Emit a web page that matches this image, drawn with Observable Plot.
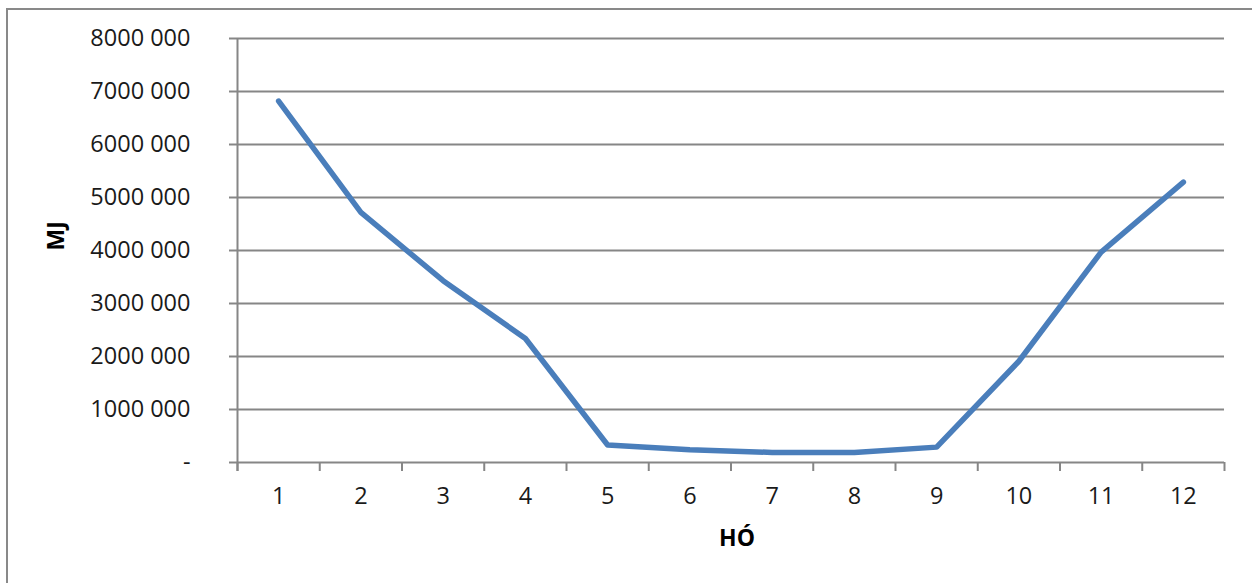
<!DOCTYPE html>
<html>
<head>
<meta charset="utf-8">
<script src="https://cdn.jsdelivr.net/npm/d3@7"></script>
<script src="https://cdn.jsdelivr.net/npm/@observablehq/plot@0.6"></script>
<style>
  html, body { margin: 0; padding: 0; background: #fff; overflow: hidden; }
  #wrap { position: relative; width: 1252px; height: 583px; }
  #frame { position: absolute; left: 6px; top: 8px; width: 1300px; height: 700px; border: 2px solid #898989; box-sizing: border-box; }
  #chart { position: absolute; left: 0; top: 0; }
</style>
</head>
<body>
<div id="wrap">
  <div id="frame"></div>
  <div id="chart"></div>
</div>
<script>
const months = [1, 2, 3, 4, 5, 6, 7, 8, 9, 10, 11, 12];
const energyMJ = [6820000, 4720000, 3430000, 2340000, 330000, 240000, 190000, 190000, 290000, 1910000, 3970000, 5290000];
const yTicks = [0, 1000000, 2000000, 3000000, 4000000, 5000000, 6000000, 7000000, 8000000];
const yTickLabels = ["-", "1000 000", "2000 000", "3000 000", "4000 000", "5000 000", "6000 000", "7000 000", "8000 000"];
const xBoundaries = [0.5, 1.5, 2.5, 3.5, 4.5, 5.5, 6.5, 7.5, 8.5, 9.5, 10.5, 11.5, 12.5];
const yTitle = "MJ";
const xTitle = "HÓ";

const data = months.map((m, i) => ({month: m, value: energyMJ[i]}));
const grid = "#868686";

const chart = Plot.plot({
  width: 1252,
  height: 583,
  marginLeft: 237,
  marginRight: 28,
  marginTop: 38,
  marginBottom: 121,
  style: {fontFamily: "'Open Sans', sans-serif", fontSize: "23.5px", color: "#1a1a1a", background: "transparent"},
  x: {type: "linear", domain: [0.5, 12.5]},
  y: {domain: [0, 8000000]},
  marks: [
    Plot.ruleY(yTicks, {stroke: grid, strokeWidth: 2}),
    Plot.ruleX([0.5], {stroke: grid, strokeWidth: 2, insetBottom: -9}),
    Plot.axisY({ticks: yTicks, tickFormat: (d, i) => yTickLabels[yTicks.indexOf(d)], tickSize: 8, tickPadding: 39, stroke: grid, strokeWidth: 2, strokeOpacity: 1, label: null}),
    Plot.axisX({ticks: xBoundaries, tickFormat: () => "", tickSize: 9, stroke: grid, strokeWidth: 2, strokeOpacity: 1, label: null}),
    Plot.axisX({ticks: months, tickFormat: d => String(d), tickSize: 0, tickPadding: 25, label: null}),
    Plot.line(data, {x: "month", y: "value", stroke: "#4a7ebb", strokeWidth: 5.5, strokeLinejoin: "round", strokeLinecap: "round"}),
    Plot.text([yTitle], {frameAnchor: "left", dx: -181, rotate: -90, fontWeight: "bold", fontSize: 23, fill: "#000"}),
    Plot.text([xTitle], {frameAnchor: "bottom", dx: 6, dy: 83, fontWeight: "bold", fontSize: 23, fill: "#000"})
  ]
});
document.getElementById("chart").appendChild(chart);
</script>
</body>
</html>
